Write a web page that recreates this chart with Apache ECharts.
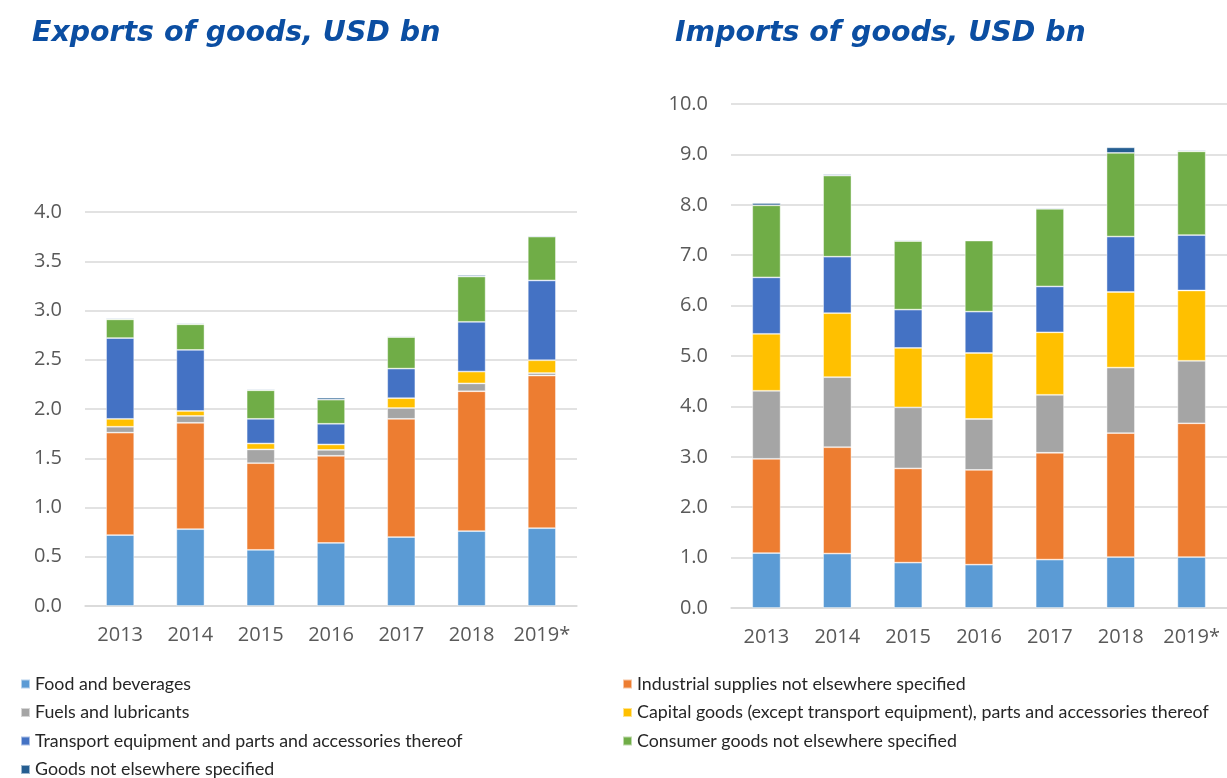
<!DOCTYPE html>
<html>
<head>
<meta charset="utf-8">
<title>Exports and imports of goods, USD bn</title>
<script src="https://cdn.jsdelivr.net/npm/echarts@6/dist/echarts.min.js"></script>
<style>
  html, body { margin: 0; padding: 0; background: #ffffff; }
  #chart { width: 1227px; height: 778px; }
</style>
</head>
<body>
<div id="chart"></div>
<script>
// Years on both category axes
const years = ['2013', '2014', '2015', '2016', '2017', '2018', '2019*'];

// Product groups, in stacking order (bottom to top)
const groupNames = [
  'Food and beverages',
  'Industrial supplies not elsewhere specified',
  'Fuels and lubricants',
  'Capital goods (except transport equipment), parts and accessories thereof',
  'Transport equipment and parts and accessories thereof',
  'Consumer goods not elsewhere specified',
  'Goods not elsewhere specified'
];
const groupColors = ['#5b9bd5', '#ed7d31', '#a5a5a5', '#ffc000', '#4472c4', '#70ad47', '#255e91'];

// Exports of goods, USD bn
const exportsFood       = [0.72, 0.78, 0.57, 0.64, 0.70, 0.76, 0.79];
const exportsIndustrial = [1.04, 1.08, 0.88, 0.885, 1.20, 1.42, 1.55];
const exportsFuels      = [0.06, 0.07, 0.14, 0.06, 0.11, 0.08, 0.025];
const exportsCapital    = [0.08, 0.05, 0.06, 0.055, 0.10, 0.12, 0.13];
const exportsTransport  = [0.82, 0.62, 0.25, 0.21, 0.30, 0.505, 0.81];
const exportsConsumer   = [0.19, 0.26, 0.29, 0.245, 0.32, 0.46, 0.445];
const exportsOther      = [0.01, 0.01, 0.01, 0.02, 0.01, 0.015, 0.01];

// Imports of goods, USD bn
const importsFood       = [1.09, 1.08, 0.90, 0.86, 0.96, 1.01, 1.01];
const importsIndustrial = [1.87, 2.11, 1.87, 1.88, 2.12, 2.46, 2.655];
const importsFuels      = [1.35, 1.39, 1.21, 1.01, 1.15, 1.30, 1.24];
const importsCapital    = [1.13, 1.27, 1.18, 1.31, 1.24, 1.50, 1.395];
const importsTransport  = [1.12, 1.12, 0.76, 0.82, 0.91, 1.10, 1.10];
const importsConsumer   = [1.43, 1.61, 1.36, 1.41, 1.54, 1.66, 1.66];
const importsOther      = [0.045, 0.025, 0.02, 0.01, 0.02, 0.11, 0.02];

const exportsSeries = [exportsFood, exportsIndustrial, exportsFuels, exportsCapital,
                       exportsTransport, exportsConsumer, exportsOther];
const importsSeries = [importsFood, importsIndustrial, importsFuels, importsCapital,
                       importsTransport, importsConsumer, importsOther];

const axisFont = { fontFamily: 'Open Sans', fontSize: 20, color: '#595959' };
const gridLine = { lineStyle: { color: '#d9d9d9', width: 1.5 } };

function xAxisFor(gridIndex) {
  return {
    type: 'category', gridIndex, data: years,
    axisLine: { lineStyle: { color: '#d9d9d9', width: 1.5 } },
    axisTick: { show: false },
    axisLabel: Object.assign({ margin: 19, interval: 0, hideOverlap: false }, axisFont)
  };
}
function yAxisFor(gridIndex, max, interval) {
  return {
    type: 'value', gridIndex, min: 0, max, interval,
    axisLine: { show: false }, axisTick: { show: false },
    splitLine: gridLine,
    axisLabel: Object.assign({ margin: 23, formatter: v => v.toFixed(1) }, axisFont)
  };
}
function barSeries(values, gi, stackId) {
  return values.map((vals, i) => ({
    name: groupNames[i], type: 'bar', stack: stackId,
    xAxisIndex: gi, yAxisIndex: gi,
    barWidth: '40%',
    itemStyle: { color: groupColors[i], borderColor: 'rgba(255,255,255,0.55)', borderWidth: 0.8 },
    emphasis: { disabled: true },
    data: vals
  }));
}

const legendText = { fontFamily: 'Lato', fontSize: 17.8, lineHeight: 18, color: '#262626' };
const legendCommon = {
  type: 'plain', orient: 'vertical', itemWidth: 9, itemHeight: 9, itemGap: 10.5,
  height: 140, icon: 'rect', textStyle: legendText, selectedMode: false, padding: 0
};

const titleText = { fontFamily: 'DejaVu Sans', fontWeight: 'bold', fontStyle: 'italic', fontSize: 28.4, color: '#0b4ea2' };

const chart = echarts.init(document.getElementById('chart'), null, { renderer: 'canvas' });
chart.setOption({
  animation: false,
  color: groupColors,
  title: [
    { text: 'Exports of goods, USD bn', left: 27, top: 15, textStyle: titleText },
    { text: 'Imports of goods, USD bn', left: 670, top: 15, textStyle: titleText }
  ],
  legend: [
    Object.assign({ left: 20, top: 675, data: [groupNames[0], groupNames[2], groupNames[4], groupNames[6]] }, legendCommon),
    Object.assign({ left: 622, top: 675, data: [groupNames[1], groupNames[3], groupNames[5]] }, legendCommon)
  ],
  grid: [
    { left: 85, top: 212, width: 492, height: 394 },
    { left: 731, top: 104, width: 500, height: 504 }
  ],
  xAxis: [xAxisFor(0), xAxisFor(1)],
  yAxis: [yAxisFor(0, 4, 0.5), yAxisFor(1, 10, 1)],
  series: barSeries(exportsSeries, 0, 'exports').concat(barSeries(importsSeries, 1, 'imports'))
});
</script>
</body>
</html>
